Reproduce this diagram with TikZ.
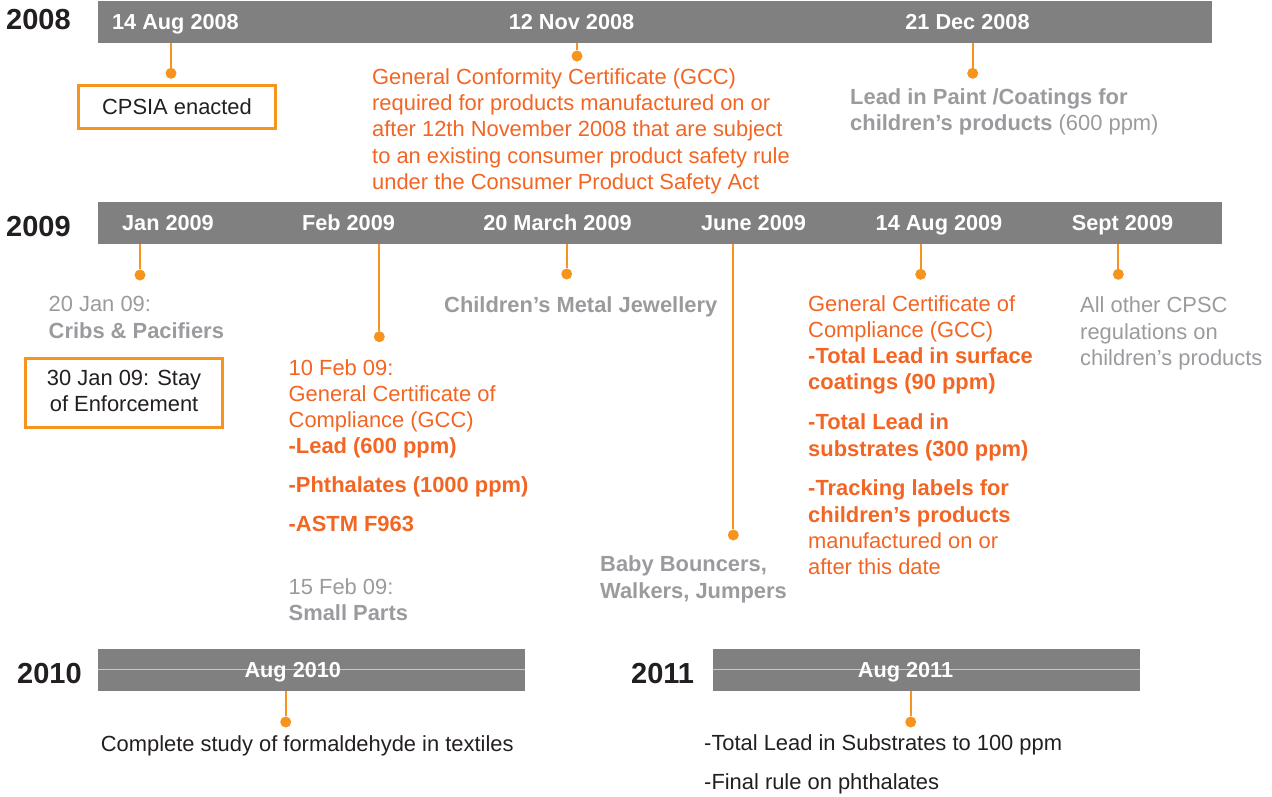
\documentclass[tikz,border=0pt]{standalone}
\usepackage{fontspec}
\setmainfont{Liberation Sans}
\definecolor{barg}{HTML}{808080}
\definecolor{ora}{HTML}{F7941D}
\definecolor{otx}{HTML}{F26522}
\definecolor{gtx}{HTML}{9B9B9F}
\definecolor{btx}{HTML}{231F20}
\definecolor{thinl}{HTML}{C8C8C8}
\newcommand{\blk}[1]{\begin{tabular}[t]{@{}l@{}}#1\end{tabular}}
\begin{document}
\begin{tikzpicture}[x=1pt,y=-1pt,
  every node/.style={inner sep=0pt, font=\fontsize{21.9}{26.3}\selectfont},
  bar/.style={fill=barg, draw=none, anchor=north west, inner sep=0pt},
  barlbl/.style={text=white, font=\fontsize{21.7}{26.3}\selectfont\bfseries, anchor=base},
  year/.style={text=btx, font=\fontsize{29}{34}\selectfont\bfseries, anchor=base west},
  dot/.style={circle, fill=ora, minimum size=11pt, inner sep=0pt},
  conn/.style={draw=ora, line width=2pt},
  midline/.style={draw=thinl, line width=1pt},
  otext/.style={text=otx, anchor=base west},
  gtext/.style={text=gtx, anchor=base west},
  ktext/.style={text=btx, anchor=base west},
  obox/.style={draw=ora, line width=3pt, text=btx}]
\useasboundingbox (0,0) rectangle (1272,796);

% bars
\node[bar, minimum width=1114pt, minimum height=41.3pt] (b08) at (98,1) {};
\node[bar, minimum width=1124pt, minimum height=41.3pt] (b09) at (98,202) {};
\node[bar, minimum width=427pt, minimum height=41.6pt] (b10) at (98,648.7) {};
\node[bar, minimum width=427pt, minimum height=41.6pt] (b11) at (712.5,648.7) {};
\draw[midline] (b10.west) -- (b10.east);
\draw[midline] (b11.west) -- (b11.east);

% years
\node[year] (y08) at (6,29) {2008};
\node[year] (y09) at (6,236) {2009};
\node[year] (y10) at (17,683.7) {2010};
\node[year] (y11) at (631,683.7) {2011};

% bar labels
\node[barlbl] (l1) at (175.5,29.5) {14 Aug 2008};
\node[barlbl] (l2) at (571.5,29.5) {12 Nov 2008};
\node[barlbl] (l3) at (967.5,29.5) {21 Dec 2008};
\node[barlbl] (l4) at (168,230) {Jan 2009};
\node[barlbl] (l5) at (348.5,230) {Feb 2009};
\node[barlbl] (l6) at (557.5,230) {20 March 2009};
\node[barlbl] (l7) at (753.5,230) {June 2009};
\node[barlbl] (l8) at (939,230) {14 Aug 2009};
\node[barlbl] (l9) at (1122.5,230) {Sept 2009};
\node[barlbl] (l10) at (292.8,677) {Aug 2010};
\node[barlbl] (l11) at (905.5,677) {Aug 2011};

% dots
\node[dot] (d1) at (171,73.3) {};
\node[dot] (d2) at (577,56) {};
\node[dot] (d3) at (972.7,73.3) {};
\node[dot] (d4) at (140,275) {};
\node[dot] (d5) at (379.3,336.7) {};
\node[dot] (d6) at (566.7,274) {};
\node[dot] (d7) at (733.3,535) {};
\node[dot] (d8) at (920.7,274.3) {};
\node[dot] (d9) at (1118.3,274.3) {};
\node[dot] (d10) at (285.7,722) {};
\node[dot] (d11) at (910.7,722) {};

% connectors
\draw[conn] (d1) -- (d1 |- b08.south);
\draw[conn] (d2) -- (d2 |- b08.south);
\draw[conn] (d3) -- (d3 |- b08.south);
\draw[conn] (d4) -- (d4 |- b09.south);
\draw[conn] (d5) -- (d5 |- b09.south);
\draw[conn] (d6) -- (d6 |- b09.south);
\draw[conn] (d7) -- (d7 |- b09.south);
\draw[conn] (d8) -- (d8 |- b09.south);
\draw[conn] (d9) -- (d9 |- b09.south);
\draw[conn] (d10) -- (d10 |- b10.south);
\draw[conn] (d11) -- (d11 |- b11.south);

% 2008 texts
\node[obox, minimum width=197.6pt, minimum height=42.7pt, text height=16pt, text depth=1.8pt] (t1) at (177,107.2) {CPSIA enacted};
\node[otext] (t2) at (372,84.3) {\blk{General Conformity Certificate (GCC)\\required for products manufactured on or\\after 12th November 2008 that are subject\\to an existing consumer product safety rule\\under the Consumer Product Safety Act}};
\node[gtext] (t3) at (850,104.3) {\blk{\textbf{Lead in Paint /Coatings for}\\\textbf{children’s products} (600 ppm)}};

% 2009 texts
\node[gtext] (t4) at (48.5,311.7) {\blk{20 Jan 09:\\\textbf{Cribs \& Pacifiers}}};
\node[obox, minimum width=197.3pt, minimum height=69.6pt] (t4b) at (124.1,393) {\begin{tabular}{@{}c@{}}30 Jan 09: Stay\\of Enforcement\end{tabular}};
\node[otext] (t5) at (288.5,375) {\blk{10 Feb 09:\\General Certificate of\\Compliance (GCC)\\\textbf{-Lead (600 ppm)}\\[12.7pt]\textbf{-Phthalates (1000 ppm)}\\[12.7pt]\textbf{-ASTM F963}}};
\node[gtext] (t5b) at (288.5,594) {\blk{15 Feb 09:\\\textbf{Small Parts}}};
\node[gtext] (t6) at (444,312.5) {\textbf{Children’s Metal Jewellery}};
\node[gtext] (t7) at (600,571.7) {\blk{\textbf{Baby Bouncers,}\\\textbf{Walkers, Jumpers}}};
\node[otext] (t8) at (808,311) {\blk{General Certificate of\\Compliance (GCC)\\\textbf{-Total Lead in surface}\\\textbf{coatings (90 ppm)}\\[13.5pt]\textbf{-Total Lead in}\\\textbf{substrates (300 ppm)}\\[13.5pt]\textbf{-Tracking labels for}\\\textbf{children’s products}\\manufactured on or\\after this date}};
\node[gtext] (t9) at (1080,312.7) {\blk{All other CPSC\\regulations on\\children’s products}};

% 2010 / 2011 texts
\node[ktext] (t10) at (100.7,751.7) {Complete study of formaldehyde in textiles};
\node[ktext] (t11) at (704,750) {\blk{-Total Lead in Substrates to 100 ppm\\[12.7pt]-Final rule on phthalates}};
\end{tikzpicture}
\end{document}
